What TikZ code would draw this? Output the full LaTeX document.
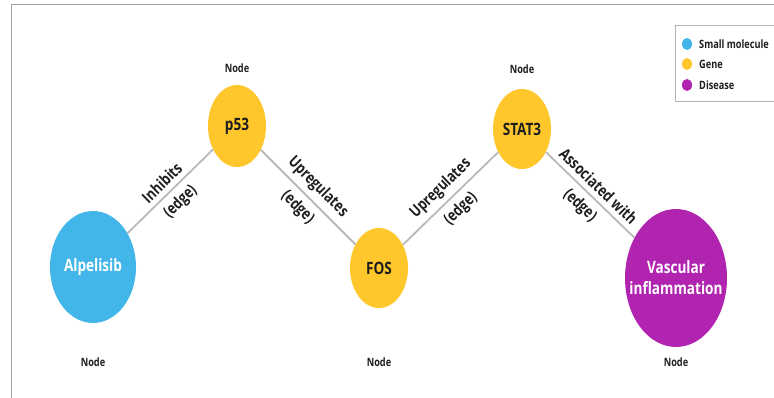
\documentclass[tikz,border=0pt]{standalone}
\usepackage{fontspec}
\setmainfont[FakeStretch=0.8]{Open Sans}
\usetikzlibrary{shapes.geometric}
\definecolor{molblue}{RGB}{66,182,232}
\definecolor{geneyellow}{RGB}{255,199,44}
\definecolor{dispurple}{RGB}{176,36,176}
\definecolor{edgegray}{RGB}{185,185,185}
\definecolor{framegray}{RGB}{160,160,160}
\definecolor{textdark}{RGB}{30,30,30}
\tikzset{
  ent/.style={ellipse, inner sep=0pt, draw=none},
  nodetxt/.style={font=\bfseries\fontsize{17}{21}\selectfont, align=center, inner sep=0pt},
  tag/.style={font=\bfseries\fontsize{11.5}{13}\selectfont, text=textdark, inner sep=0pt},
  rel/.style={draw=edgegray, line width=1.8pt},
  rellab/.style={font=\bfseries\fontsize{16}{18}\selectfont, text=textdark, sloped, inner sep=0pt},
  legtxt/.style={font=\bfseries\fontsize{11.5}{13}\selectfont, text=textdark, anchor=west, inner sep=0pt},
  legdot/.style={ellipse, inner sep=0pt, minimum width=10pt, minimum height=12pt},
}
\begin{document}
\begin{tikzpicture}[x=1pt,y=-1pt]
\useasboundingbox (0,0) rectangle (774,398);
% frame
\draw[framegray, line width=1pt] (11,398) -- (11,5) -- (780,5);
% legend
\draw[framegray!80, line width=0.8pt] (780,25) -- (675,25) -- (675,101) -- (780,101);
\node[legdot, fill=molblue] (l1) at (687,44) {};
\node[legdot, fill=geneyellow] (l2) at (687,64) {};
\node[legdot, fill=dispurple] (l3) at (687,85) {};
\node[legtxt] (t1) at (699,44) {Small molecule};
\node[legtxt] (t2) at (699,64) {Gene};
\node[legtxt] (t3) at (699,85) {Disease};
% entities
\node[ent, fill=molblue, minimum width=86pt, minimum height=112pt] (alp) at (93,267) {};
\node[ent, fill=geneyellow, minimum width=58pt, minimum height=82pt] (p53) at (237,126) {};
\node[ent, fill=geneyellow, minimum width=58pt, minimum height=80pt] (fos) at (379,268) {};
\node[ent, fill=geneyellow, minimum width=58pt, minimum height=80pt] (stat) at (522,129) {};
\node[ent, fill=dispurple, minimum width=102pt, minimum height=138pt] (vasc) at (676,278) {};
\node[nodetxt, text=white] (alpt) at (alp) {Alpelisib};
\node[nodetxt, text=textdark] (p53t) at (p53) {p53};
\node[nodetxt, text=textdark] (fost) at (fos) {FOS};
\node[nodetxt, text=textdark] (statt) at (stat) {STAT3};
\node[nodetxt, text=white] (vasct) at (vasc) {Vascular\\inflammation};
% node tags
\node[tag] (n1) at (93,362) {Node};
\node[tag] (n2) at (237,68) {Node};
\node[tag] (n3) at (379,362) {Node};
\node[tag] (n4) at (522,69) {Node};
\node[tag] (n5) at (676,362) {Node};
% edges
\draw[rel] (alp) -- node[rellab, above=5pt] (e1a) {Inhibits} node[rellab, below=6pt] (e1b) {(edge)} (p53);
\draw[rel] (p53) -- node[rellab, above=5pt] (e2a) {Upregulates} node[rellab, below=6pt] (e2b) {(edge)} (fos);
\draw[rel] (fos) -- node[rellab, above=5pt] (e3a) {Upregulates} node[rellab, below=6pt] (e3b) {(edge)} (stat);
\draw[rel] (stat) -- node[rellab, above=5pt] (e4a) {Associated with} node[rellab, below=6pt] (e4b) {(edge)} (vasc);
\end{tikzpicture}
\end{document}
